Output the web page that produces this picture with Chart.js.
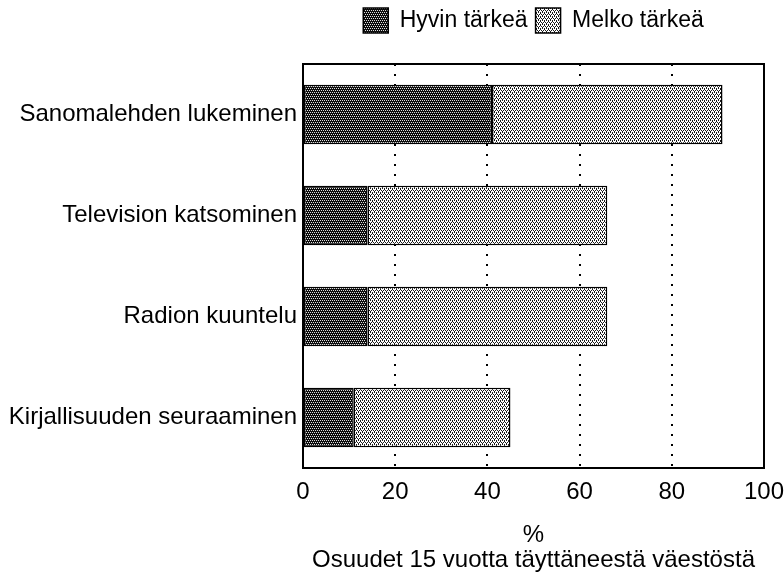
<!DOCTYPE html>
<html>
<head>
<meta charset="utf-8">
<script src="https://cdn.jsdelivr.net/npm/chart.js@4/dist/chart.umd.min.js"></script>
<style>
  html, body { margin: 0; padding: 0; background: #fff; }
  #wrap { width: 784px; height: 572px; }
</style>
</head>
<body>
<div id="wrap"><canvas id="chart" width="784" height="572"></canvas></div>
<script>
// Data
const categories = [
  'Sanomalehden lukeminen',
  'Television katsominen',
  'Radion kuuntelu',
  'Kirjallisuuden seuraaminen'
];
const seriesNames = ['Hyvin tärkeä', 'Melko tärkeä'];
const veryImportant = [41, 14, 14, 11];
const fairlyImportant = [50, 52, 52, 34];
const xTicks = [0, 20, 40, 60, 80, 100];
const axisTitle = ['%', 'Osuudet 15 vuotta täyttäneestä väestöstä'];

const FONT = '"Liberation Sans", Arial, Helvetica, sans-serif';
const FONT_SIZE = 24;
Chart.defaults.font.family = FONT;
Chart.defaults.color = '#000';

// Dotted screen fills like the printed original
function makePattern(bg, fg, dots) {
  const c = document.createElement('canvas');
  c.width = 4; c.height = 4;
  const g = c.getContext('2d');
  g.fillStyle = bg;
  g.fillRect(0, 0, 4, 4);
  g.fillStyle = fg;
  dots.forEach(d => g.fillRect(d[0], d[1], 1, 1));
  return g.createPattern(c, 'repeat');
}
const darkFill = makePattern('#0c0c0c', '#e0e0e0', [[0, 0], [2, 0], [1, 2], [3, 2]]);
const lightFill = makePattern('#fff', '#1a1a1a', [[0, 0], [2, 0], [1, 2], [3, 2], [0, 1], [2, 3]]);

// Frame round the plot area
const frame = {
  id: 'frame',
  afterDraw(chart) {
    const { ctx, chartArea: a } = chart;
    ctx.save();
    ctx.strokeStyle = '#000';
    ctx.lineWidth = 2;
    ctx.strokeRect(a.left, a.top, a.right - a.left, a.bottom - a.top);
    ctx.restore();
  }
};

// Extra space under the legend
const legendGap = {
  id: 'legendGap',
  beforeInit(chart) {
    const fit = chart.legend.fit;
    chart.legend.fit = function () {
      fit.bind(chart.legend)();
      this.height += 21;
    };
  }
};

new Chart(document.getElementById('chart'), {
  type: 'bar',
  data: {
    labels: categories,
    datasets: [
      {
        label: seriesNames[0],
        data: veryImportant,
        backgroundColor: darkFill,
        borderColor: '#000',
        borderWidth: 1.5,
        borderSkipped: false
      },
      {
        label: seriesNames[1],
        data: fairlyImportant,
        backgroundColor: lightFill,
        borderColor: '#000',
        borderWidth: 1.5,
        borderSkipped: false
      }
    ]
  },
  options: {
    indexAxis: 'y',
    responsive: false,
    animation: false,
    layout: { padding: 0 },
    datasets: {
      bar: { categoryPercentage: 1, barPercentage: 0.59 }
    },
    plugins: {
      legend: {
        position: 'top',
        fullSize: false,
        labels: {
          boxWidth: 25,
          boxHeight: 25,
          padding: 8,
          color: '#000',
          font: { size: 23 }
        }
      },
      tooltip: { enabled: false }
    },
    scales: {
      x: {
        stacked: true,
        min: xTicks[0],
        max: xTicks[xTicks.length - 1],
        afterBuildTicks: (scale) => { scale.ticks = xTicks.map(v => ({ value: v })); },
        afterFit: (scale) => {
          scale.height = 104;
          scale.paddingRight = 20;
        },
        ticks: { font: { size: FONT_SIZE }, color: '#000', padding: 10 },
        grid: {
          drawTicks: false,
          lineWidth: 2,
          color: (ctx) => (ctx.tick && (ctx.tick.value === 0 || ctx.tick.value === 100)) ? 'rgba(0,0,0,0)' : '#000'
        },
        border: { display: true, color: '#000', width: 2, dash: [2, 8] },
        title: {
          display: true,
          text: axisTitle,
          color: '#000',
          font: { size: FONT_SIZE, lineHeight: 1.05 },
          padding: { top: 0, bottom: -1 }
        }
      },
      y: {
        stacked: true,
        afterFit: (scale) => { scale.width = 303; },
        ticks: { font: { size: FONT_SIZE }, color: '#000', padding: 6 },
        grid: { display: false, drawTicks: false },
        border: { display: true, color: '#000', width: 2 }
      }
    }
  },
  plugins: [frame, legendGap]
});
</script>
</body>
</html>
